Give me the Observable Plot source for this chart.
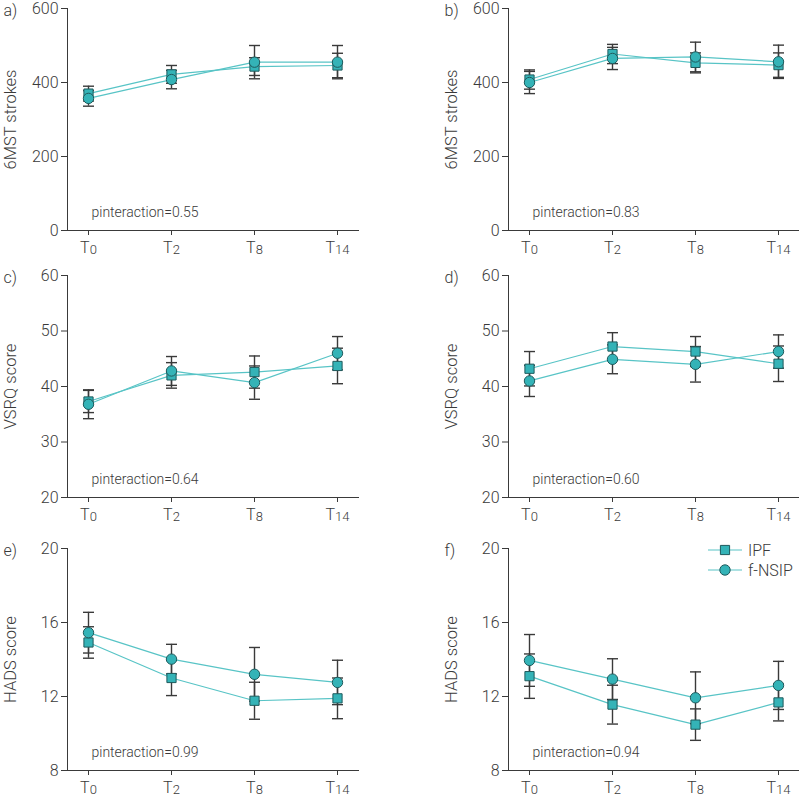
<!DOCTYPE html>
<html>
<head>
<meta charset="utf-8">
<script src="https://cdn.jsdelivr.net/npm/d3@7"></script>
<script src="https://cdn.jsdelivr.net/npm/@observablehq/plot@0.6"></script>
<style>
  body { margin: 0; background: #fff; }
  #chart { position: relative; width: 799px; height: 799px; overflow: hidden; font-family: Roboto, sans-serif; }
  #chart svg { position: absolute; overflow: visible; }
</style>
</head>
<body>
<div id="chart"></div>
<script>
// ---- data ----
const times = ["T0", "T2", "T8", "T14"];
const groups = ["IPF", "f-NSIP"];
const panelLetters = ["a)", "b)", "c)", "d)", "e)", "f)"];
const yLabels = ["6MST strokes", "6MST strokes", "VSRQ score", "VSRQ score", "HADS score", "HADS score"];
const pValues = ["0.55", "0.83", "0.64", "0.60", "0.99", "0.94"];

const aIPF = [370, 422, 443, 446];       const aIPFErr = [20, 24, 24, 33];
const aNSIP = [357, 408, 455, 455];      const aNSIPErr = [21, 25, 45, 45];
const bIPF = [408, 477, 453, 447];       const bIPFErr = [26, 26, 27, 33];
const bNSIP = [400, 465, 469, 456];      const bNSIPErr = [30, 30, 40, 45];
const cIPF = [37.3, 42.0, 42.6, 43.7];   const cIPFErr = [2.0, 2.3, 2.9, 3.2];
const cNSIP = [36.8, 42.8, 40.7, 46.0];  const cNSIPErr = [2.6, 2.6, 3.0, 3.0];
const dIPF = [43.2, 47.2, 46.3, 44.1];   const dIPFErr = [3.1, 2.5, 2.7, 3.2];
const dNSIP = [41.0, 44.9, 44.0, 46.3];  const dNSIPErr = [2.8, 2.6, 3.2, 3.0];
const eIPF = [14.92, 13.0, 11.77, 11.9]; const eIPFErr = [0.85, 0.95, 1.0, 1.1];
const eNSIP = [15.45, 14.02, 13.2, 12.76]; const eNSIPErr = [1.1, 0.8, 1.45, 1.2];
const fIPF = [13.1, 11.56, 10.48, 11.68]; const fIPFErr = [1.2, 1.05, 0.85, 1.0];
const fNSIP = [13.95, 12.94, 11.93, 12.6]; const fNSIPErr = [1.4, 1.1, 1.4, 1.3];

const yDomains = [[0, 600], [0, 600], [20, 60], [20, 60], [8, 20], [8, 20]];
const yTicks = [[0, 200, 400, 600], [0, 200, 400, 600], [20, 30, 40, 50, 60], [20, 30, 40, 50, 60], [8, 12, 16, 20], [8, 12, 16, 20]];

const series = [
  [aIPF, aIPFErr, aNSIP, aNSIPErr],
  [bIPF, bIPFErr, bNSIP, bNSIPErr],
  [cIPF, cIPFErr, cNSIP, cNSIPErr],
  [dIPF, dIPFErr, dNSIP, dNSIPErr],
  [eIPF, eIPFErr, eNSIP, eNSIPErr],
  [fIPF, fIPFErr, fNSIP, fNSIPErr]
];

// ---- style ----
const lineColor = "#58c4c6";
const markFill = "#34b3b7";
const markStroke = "#1f5a5c";
const barColor = "#3a3a3a";
const textColor = "#3a3a3a";
const fontW = 300;
const capSymbol = { draw(ctx) { ctx.moveTo(-5.5, 0); ctx.lineTo(5.5, 0); } };

const chart = document.getElementById("chart");
const lefts = [0, 441];
const tops = [1, 268, 541];

function subscriptTicks(svg) {
  const ns = "http://www.w3.org/2000/svg";
  svg.querySelectorAll('g[aria-label="x-axis tick label"] text').forEach(t => {
    const s = t.textContent;
    t.textContent = s[0];
    const ts = document.createElementNS(ns, "tspan");
    ts.setAttribute("font-size", "13");
    ts.setAttribute("dy", "1");
    ts.textContent = s.slice(1);
    t.appendChild(ts);
  });
  svg.querySelectorAll('g[aria-label="pvalue"] text').forEach(t => {
    const s = t.textContent; // "pinteraction=0.55"
    t.textContent = "p";
    const a = document.createElementNS(ns, "tspan");
    a.setAttribute("font-size", "11.5");
    a.textContent = "interaction";
    const b = document.createElementNS(ns, "tspan");
    b.textContent = s.slice(s.indexOf("="));
    t.appendChild(a); t.appendChild(b);
  });
}

series.forEach((s, k) => {
  const [ipf, ipfErr, nsip, nsipErr] = s;
  const rows = times.flatMap((t, i) => [
    { time: t, group: groups[0], value: ipf[i], err: ipfErr[i] },
    { time: t, group: groups[1], value: nsip[i], err: nsipErr[i] }
  ]);
  const col = k % 2, row = Math.floor(k / 2);
  const svg = Plot.plot({
    width: col === 0 ? 400 : 358,
    height: 257,
    marginLeft: 67,
    marginRight: col === 0 ? 42 : 0,
    marginTop: 7,
    marginBottom: 28,
    style: { fontFamily: "Roboto, sans-serif", fontSize: "16px", fontWeight: fontW, color: textColor, background: "transparent", overflow: "visible" },
    x: { type: "point", domain: times, padding: 0.25, label: null },
    y: { domain: yDomains[k], label: null },
    marks: [
      Plot.axisX({ tickSize: 5, tickPadding: 6, fontSize: 16, stroke: textColor }),
      Plot.axisY({ ticks: yTicks[k], tickSize: 6, tickPadding: 3, fontSize: 16, stroke: textColor }),
      Plot.frame({ anchor: "left", stroke: textColor }),
      Plot.frame({ anchor: "bottom", stroke: textColor }),
      Plot.line(rows, { x: "time", y: "value", z: "group", stroke: lineColor, strokeWidth: 1.2 }),
      Plot.ruleX(rows, { x: "time", y1: d => d.value - d.err, y2: d => d.value + d.err, stroke: barColor, strokeWidth: 1.4 }),
      Plot.dot(rows, { x: "time", y: d => d.value + d.err, symbol: () => capSymbol, stroke: barColor, strokeWidth: 1.4, fill: "none" }),
      Plot.dot(rows, { x: "time", y: d => d.value - d.err, symbol: () => capSymbol, stroke: barColor, strokeWidth: 1.4, fill: "none" }),
      Plot.dot(rows.filter(d => d.group === groups[0]), { x: "time", y: "value", symbol: "square", r: 5.2, fill: markFill, stroke: markStroke, strokeWidth: 1 }),
      Plot.dot(rows.filter(d => d.group === groups[1]), { x: "time", y: "value", symbol: "circle", r: 5.2, fill: markFill, stroke: markStroke, strokeWidth: 1 }),
      Plot.text([yLabels[k]], { text: d => d, frameAnchor: "left", dx: -57, rotate: -90, textAnchor: "middle", lineAnchor: "middle", fontSize: 16.5, fill: textColor }),
      Plot.text([panelLetters[k]], { text: d => d, frameAnchor: "top-left", dx: -64, dy: 2, textAnchor: "start", lineAnchor: "middle", fontSize: 16, fill: textColor }),
      Plot.text([pValues[k]], { text: d => "pinteraction=" + d, frameAnchor: "bottom-left", dx: 24, dy: -14, textAnchor: "start", lineAnchor: "bottom", fontSize: 14, fill: textColor, ariaLabel: "pvalue" })
    ]
  });
  svg.style.left = lefts[col] + "px";
  svg.style.top = tops[row] + "px";
  subscriptTicks(svg);
  chart.appendChild(svg);
});

// ---- legend (panel f) ----
const ns = "http://www.w3.org/2000/svg";
const leg = document.createElementNS(ns, "svg");
leg.setAttribute("width", 100); leg.setAttribute("height", 40);
leg.style.left = "704px"; leg.style.top = "540px";
groups.forEach((g, i) => {
  const y = 10 + i * 20;
  const l = document.createElementNS(ns, "line");
  l.setAttribute("x1", 4); l.setAttribute("x2", 38); l.setAttribute("y1", y); l.setAttribute("y2", y);
  l.setAttribute("stroke", lineColor); l.setAttribute("stroke-width", 1.2);
  leg.appendChild(l);
  const sym = d3.symbol(i === 0 ? d3.symbolSquare : d3.symbolCircle, 5.2 * 5.2 * Math.PI)();
  const p = document.createElementNS(ns, "path");
  p.setAttribute("d", sym); p.setAttribute("transform", `translate(21,${y})`);
  p.setAttribute("fill", markFill); p.setAttribute("stroke", markStroke);
  leg.appendChild(p);
  const t = document.createElementNS(ns, "text");
  t.setAttribute("x", 44); t.setAttribute("y", y); t.setAttribute("dy", "0.35em");
  t.setAttribute("font-family", "Roboto, sans-serif"); t.setAttribute("font-size", "16");
  t.setAttribute("font-weight", fontW);
  t.setAttribute("fill", textColor);
  t.textContent = g;
  leg.appendChild(t);
});
chart.appendChild(leg);
</script>
</body>
</html>
